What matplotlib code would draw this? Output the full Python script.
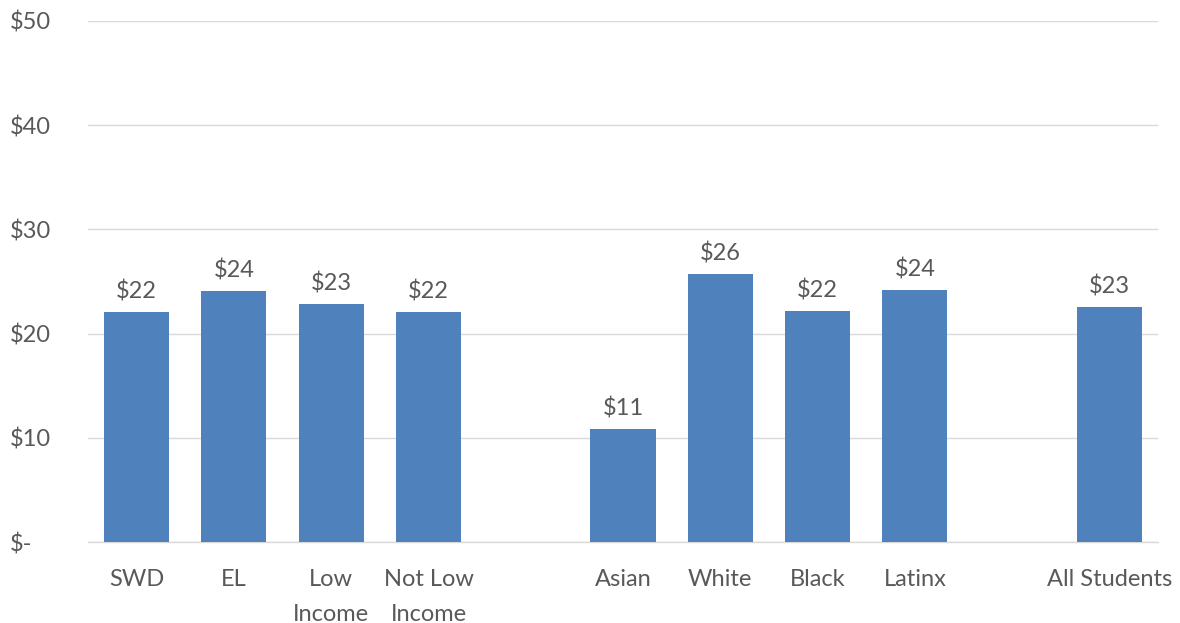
import matplotlib
matplotlib.use("Agg")
import matplotlib.pyplot as plt

categories = ["SWD", "EL", "Low\nIncome", "Not Low\nIncome", "",
              "Asian", "White", "Black", "Latinx", "", "All Students"]
values = [22.07, 24.09, 22.84, 22.07, None,
          10.84, 25.72, 22.17, 24.18, None, 22.55]
value_labels = ["$22", "$24", "$23", "$22", "",
                "$11", "$26", "$22", "$24", "", "$23"]
yticks = [0, 10, 20, 30, 40, 50]
ytick_labels = ["$-", "$10", "$20", "$30", "$40", "$50"]

plt.rcParams['font.family'] = ['Lato', 'DejaVu Sans']
text_color = "#595959"
bar_color = "#4F81BD"
grid_color = "#D9D9D9"

fig = plt.figure(figsize=(11.8, 6.23), dpi=100)
ax = fig.add_axes([88/1180, 81/623, (1158-88)/1180, (542-21)/623])

xs = list(range(len(categories)))
for x, v, lab in zip(xs, values, value_labels):
    if v is None:
        continue
    ax.bar(x, v, width=0.67, color=bar_color, zorder=3)
    ax.annotate(lab, (x, v), xytext=(0, 7), textcoords="offset points",
                ha="center", va="bottom", fontsize=17, color=text_color)

ax.set_xlim(-0.5, len(categories) - 0.5)
ax.set_ylim(0, 50)
ax.set_yticks(yticks)
ax.set_yticklabels(ytick_labels)
ax.set_xticks(xs)
ax.set_xticklabels(categories, linespacing=1.8)

for t in ax.get_yticklabels():
    t.set_horizontalalignment("left")
ax.tick_params(axis="y", length=0, pad=56, labelsize=17, labelcolor=text_color)
ax.tick_params(axis="x", length=0, pad=19.5, labelsize=17, labelcolor=text_color)

ax.grid(axis="y", color=grid_color, linewidth=1, zorder=0)
for s in ["top", "right", "left"]:
    ax.spines[s].set_visible(False)
ax.spines["bottom"].set_color(grid_color)
ax.spines["bottom"].set_linewidth(1)

fig.savefig("out.png", dpi=100)
